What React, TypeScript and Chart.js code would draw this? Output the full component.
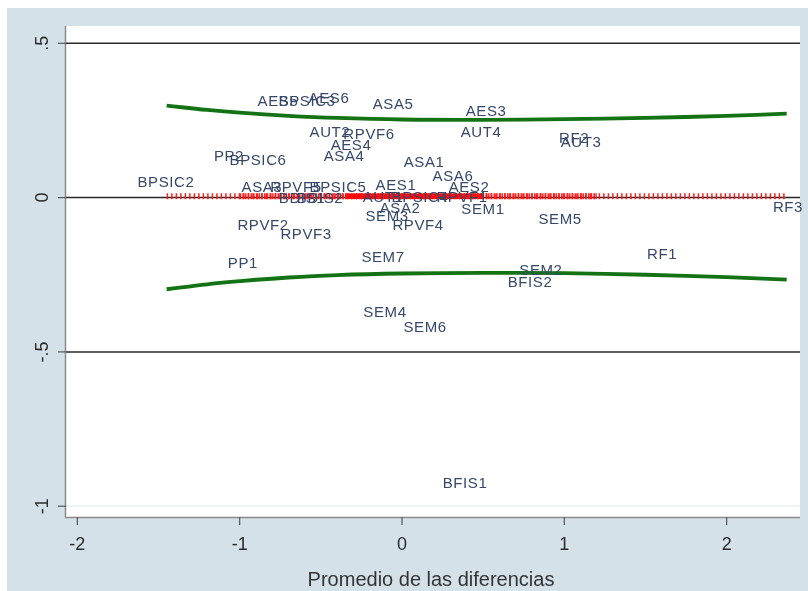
import { useEffect, useRef } from "react";
import { Chart, registerables } from "chart.js";

Chart.register(...registerables);

// Item labels and their coordinates (x = mean, y = difference)
const itemNames = [
  "AES5", "BPSIC3", "AES6", "ASA5", "AES3", "AUT4", "AUT2", "RPVF6", "AES4", "ASA4",
  "PP2", "BPSIC6", "BPSIC2", "RF2", "AUT3", "ASA1", "ASA6", "AES1", "AES2", "ASA3",
  "RPVF5", "BPSIC5", "BDIS1", "BDIS2", "AUT1", "BPSIC4", "RPVF1", "ASA2", "SEM3", "RPVF4",
  "SEM1", "SEM5", "RF3", "RPVF2", "RPVF3", "PP1", "SEM7", "RF1", "SEM2", "BFIS2",
  "SEM4", "SEM6", "BFIS1",
];
const itemX = [
  -0.764, -0.585, -0.45, -0.055, 0.518, 0.487, -0.444, -0.203, -0.314, -0.357,
  -1.066, -0.887, -1.454, 1.06, 1.103, 0.136, 0.314, -0.037, 0.413, -0.863,
  -0.653, -0.394, -0.616, -0.505, -0.117, 0.111, 0.37, -0.012, -0.092, 0.099,
  0.499, 0.974, 2.378, -0.856, -0.591, -0.98, -0.117, 1.602, 0.856, 0.789,
  -0.105, 0.142, 0.388,
];
const itemY = [
  0.309, 0.309, 0.319, 0.3, 0.277, 0.209, 0.209, 0.202, 0.167, 0.131,
  0.131, 0.118, 0.047, 0.19, 0.177, 0.112, 0.066, 0.037, 0.031, 0.031,
  0.031, 0.031, -0.005, -0.005, -0.002, -0.002, -0.002, -0.037, -0.063, -0.092,
  -0.04, -0.073, -0.034, -0.092, -0.121, -0.215, -0.196, -0.186, -0.238, -0.277,
  -0.374, -0.423, -0.928,
];

// Limits of agreement curves
const bandX = [-1.45, -1.2, -1.0, -0.7, -0.4, 0, 0.5, 1.0, 1.5, 2.0, 2.37];
const upperY = [0.298, 0.284, 0.275, 0.265, 0.258, 0.253, 0.252, 0.254, 0.258, 0.265, 0.272];
const lowerY = [-0.297, -0.281, -0.271, -0.259, -0.251, -0.246, -0.244, -0.245, -0.25, -0.258, -0.266];

// Mean difference line (red)
const meanOuterX = [-1.45, 2.37];
const meanMidX = [-1.0, 1.2];
const meanCoreX = [-0.35, 0.5];
const meanY = 0.004;

const xTicks = [-2, -1, 0, 1, 2];
const xTickLabels = ["-2", "-1", "0", "1", "2"];
const yTicks = [0.5, 0, -0.5, -1];
const yTickLabels = [".5", "0", "-.5", "-1"];
const refLines = [0.5, 0, -0.5];
const xTitle = "Promedio de las diferencias";

const FONT = "'Liberation Sans', Arial, Helvetica, sans-serif";

export default function App() {
  const ref = useRef<HTMLCanvasElement | null>(null);

  useEffect(() => {
    document.body.style.margin = "0";
    const canvas = ref.current;
    if (!canvas) return;

    const decor = {
      id: "decor",
      beforeDraw(chart: any) {
        const { ctx, chartArea: a, scales } = chart;
        const W = chart.width;
        const H = chart.height;
        ctx.save();
        ctx.fillStyle = "#ffffff";
        ctx.fillRect(0, 0, W, H);
        ctx.fillStyle = "rgb(213,225,233)";
        ctx.fillRect(7, 8, W - 7, H - 8);
        ctx.fillStyle = "#ffffff";
        ctx.fillRect(a.left, a.top, a.right - a.left, a.bottom - a.top);
        // grid lines
        ctx.strokeStyle = "rgb(228,236,240)";
        ctx.lineWidth = 1.2;
        for (const v of yTicks) {
          const py = scales.y.getPixelForValue(v);
          ctx.beginPath();
          ctx.moveTo(a.left, py);
          ctx.lineTo(a.right, py);
          ctx.stroke();
        }
        // reference lines
        ctx.strokeStyle = "#2a2a2a";
        ctx.lineWidth = 1.5;
        for (const v of refLines) {
          const py = scales.y.getPixelForValue(v);
          ctx.beginPath();
          ctx.moveTo(a.left, py);
          ctx.lineTo(a.right, py);
          ctx.stroke();
        }
        // axes lines
        ctx.strokeStyle = "#8a8a8a";
        ctx.lineWidth = 1.5;
        ctx.beginPath();
        ctx.moveTo(a.left - 0.5, a.top);
        ctx.lineTo(a.left - 0.5, a.bottom + 0.5);
        ctx.lineTo(a.right, a.bottom + 0.5);
        ctx.stroke();
        // ticks
        ctx.strokeStyle = "#555555";
        ctx.lineWidth = 1.2;
        for (const v of yTicks) {
          const py = scales.y.getPixelForValue(v);
          ctx.beginPath();
          ctx.moveTo(a.left - 8, py);
          ctx.lineTo(a.left, py);
          ctx.stroke();
        }
        for (const v of xTicks) {
          const px = scales.x.getPixelForValue(v);
          ctx.beginPath();
          ctx.moveTo(px, a.bottom);
          ctx.lineTo(px, a.bottom + 8);
          ctx.stroke();
        }
        ctx.restore();
      },
      afterDatasetsDraw(chart: any) {
        const { ctx, chartArea: a, scales } = chart;
        ctx.save();
        // item labels
        ctx.font = `15px ${FONT}`;
        (ctx as any).letterSpacing = "0.6px";
        ctx.fillStyle = "#364869";
        ctx.textAlign = "center";
        ctx.textBaseline = "middle";
        for (let i = 0; i < itemNames.length; i++) {
          const px = scales.x.getPixelForValue(itemX[i]);
          const py = scales.y.getPixelForValue(itemY[i]);
          ctx.fillText(itemNames[i], px, py);
        }
        (ctx as any).letterSpacing = "0px";
        // tick labels
        ctx.fillStyle = "#2a2a2a";
        ctx.font = `18px ${FONT}`;
        for (let i = 0; i < xTicks.length; i++) {
          const px = scales.x.getPixelForValue(xTicks[i]);
          ctx.fillText(xTickLabels[i], px, a.bottom + 28);
        }
        for (let i = 0; i < yTicks.length; i++) {
          const py = scales.y.getPixelForValue(yTicks[i]);
          ctx.save();
          ctx.translate(a.left - 23, py);
          ctx.rotate(-Math.PI / 2);
          ctx.fillText(yTickLabels[i], 0, 0);
          ctx.restore();
        }
        // axis title
        ctx.font = `20px ${FONT}`;
        ctx.fillStyle = "#333333";
        ctx.fillText(xTitle, (a.left + a.right) / 2 - 2, a.bottom + 63);
        ctx.restore();
      },
    };

    const line = (xs: number[], ys: number[]) => xs.map((x, i) => ({ x, y: ys[i] }));
    const flat = (xs: number[]) => xs.map((x) => ({ x, y: meanY }));

    const chart = new Chart(canvas, {
      type: "scatter",
      data: {
        datasets: [
          {
            label: "upper",
            data: line(bandX, upperY),
            showLine: true,
            borderColor: "#137213",
            borderWidth: 3.8,
            pointRadius: 0,
            tension: 0.4,
          },
          {
            label: "lower",
            data: line(bandX, lowerY),
            showLine: true,
            borderColor: "#137213",
            borderWidth: 3.8,
            pointRadius: 0,
            tension: 0.4,
          },
          {
            label: "mean-outer",
            data: flat(meanOuterX),
            showLine: true,
            borderColor: "rgba(255,20,20,0.95)",
            borderWidth: 6,
            borderDash: [1.5, 3],
            pointRadius: 0,
          },
          {
            label: "mean-mid",
            data: flat(meanMidX),
            showLine: true,
            borderColor: "rgba(255,10,10,0.9)",
            borderWidth: 6,
            borderDash: [1.5, 1.2],
            pointRadius: 0,
          },
          {
            label: "mean-core",
            data: flat(meanCoreX),
            showLine: true,
            borderColor: "rgba(255,0,0,0.95)",
            borderWidth: 5.5,
            pointRadius: 0,
          },
          {
            label: "items",
            data: line(itemX, itemY),
            pointRadius: 0,
            showLine: false,
          },
        ],
      },
      options: {
        animation: false,
        responsive: false,
        layout: { padding: { left: 66, top: 26, right: 8, bottom: 74 } },
        plugins: { legend: { display: false }, tooltip: { enabled: false } },
        scales: {
          x: { type: "linear", min: -2.07, max: 2.452, display: false },
          y: { type: "linear", min: -1.035, max: 0.556, display: false },
        },
      },
      plugins: [decor],
    });

    return () => chart.destroy();
  }, []);

  return (
    <div style={{ width: 808, height: 591 }}>
      <canvas ref={ref} width={808} height={591} style={{ display: "block" }} />
    </div>
  );
}
